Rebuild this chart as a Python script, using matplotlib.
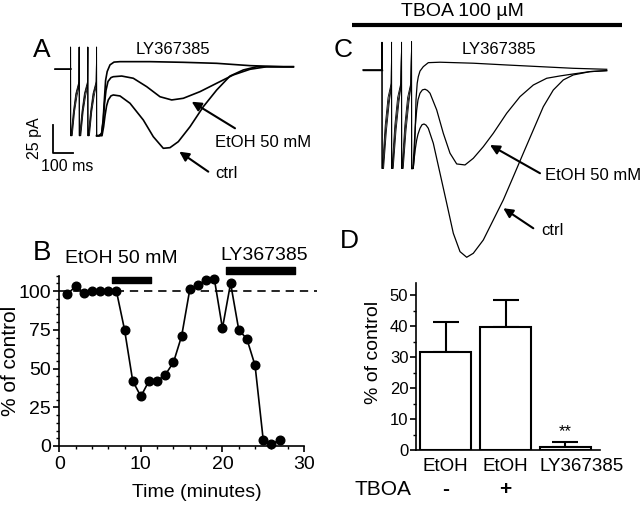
import matplotlib
matplotlib.use("Agg")
import matplotlib.pyplot as plt
from matplotlib.ticker import MultipleLocator

plt.rcParams['font.family'] = ['Liberation Sans', 'DejaVu Sans']
plt.rcParams['font.size'] = 14

# ---------------- Panel A traces (time in ms, current in pA) ----------------
A_stims = [3, 46, 89, 133]
A_base_start = -75
A_LY_art_t = [0, 0.5, 2, 14, 26, 42]
A_LY_art_I = [20, -60, -60, -38, -22, -11]
A_Et_art_t = [0, 0.5, 5, 17, 29, 42]
A_Et_art_I = [20, -60, -60, -38, -22, -13]
A_ct_art_t = [0, 0.5, 8, 20, 32, 42]
A_ct_art_I = [20, -60, -60, -38, -24, -15]

A_LY_t = [133, 133.5, 145, 158, 166, 172, 178, 186, 200, 220, 250, 400, 567, 733, 900, 1067, 1117]
A_LY_I = [20, -60, -60, -58, -45, -27, -10, -2, 4, 6.5, 6.9, 6.9, 6.3, 5.4, 3.3, 2.3, 2.3]
A_Et_t = [133, 133.5, 147, 158, 166, 172, 180, 190, 205, 216.5, 258.5, 316.5, 383.5, 450, 508.5,
          566.5, 650, 733.5, 816.5, 900, 983.5, 1066.5, 1116.5]
A_Et_I = [20, -60, -60, -58, -47, -32, -19, -11, -7.5, -6.7, -6.1, -8.1, -15.7, -24.8, -27.7,
          -26.2, -20.2, -12.6, -5.1, 0, 2.3, 2.3, 2.3]
A_ct_t = [133, 133.5, 150, 160, 168, 175, 183, 191.5, 205, 216.5, 250, 300, 366.5, 416.5, 466.5,
          500, 541.5, 600, 666.5, 733.5, 800, 866.5, 933.5, 1066.5, 1116.5]
A_ct_I = [20, -60, -60, -60, -52, -42, -33, -27.7, -24, -23.2, -24.1, -30.7, -45.8, -60.9, -71.4,
          -70.8, -65.4, -51.9, -33.8, -18.7, -6.1, -0.6, 2.3, 2.3, 2.3]

# ---------------- Panel C traces ----------------
C_stims = [10, 58, 108, 158]
C_base_start = -85
C_LY_art_t = [0, 0.5, 2, 16, 30, 46]
C_LY_art_I = [25, -89, -89, -50, -25, -12]
C_Et_art_t = [0, 0.5, 5, 19, 33, 46]
C_Et_art_I = [25, -89, -89, -52, -28, -14]
C_ct_art_t = [0, 0.5, 8, 22, 36, 46]
C_ct_art_I = [25, -89, -89, -55, -30, -16]

C_LY_t = [158, 158.5, 166, 172, 176, 180, 186, 191.5, 200, 216.5, 241.5, 300, 466.5, 633.5, 800, 966.5, 1133.5]
C_LY_I = [25.6, -89, -89, -78, -55, -27, -12, -6.1, -1, 3, 6.6, 7, 6.1, 4.5, 3, 1.5, 0.6]
C_Et_t = [158, 158.5, 164, 170, 176, 183.5, 190, 200, 212, 225, 237, 250, 283.5, 316.5, 350, 383.5,
          425, 466.5, 516.5, 566.5, 633.5, 700, 766.5, 833.5, 900, 966.5, 1050, 1133.5]
C_Et_I = [25.6, -89, -89, -72.3, -52, -36.1, -27, -21, -18, -17.4, -18.5, -21, -36.1, -57.2, -75.2, -84.9,
          -85.8, -79.8, -69.3, -57.2, -39.1, -24.1, -13.6, -7.5, -5.4, -3.6, -1.5, -0.6]
C_ct_t = [158, 158.5, 166, 170, 176, 183.5, 190, 200, 210, 220, 230, 241.5, 266.5, 300, 333.5, 366.5,
          400, 433.5, 466.5, 516.5, 566.5, 616.5, 666.5, 716.5, 766.5, 816.5, 866.5, 916.5, 966.5, 1050, 1133.5]
C_ct_I = [25.6, -89, -89, -81.3, -72, -63.2, -58, -52.7, -49.5, -48.8, -49.8, -52.7, -66.2, -93.3, -120.4, -147.5,
          -164.1, -169.2, -165.6, -153.6, -135.5, -117.4, -96.4, -75.2, -54.2, -33.2, -18.1, -9, -4.5, -1.5, -0.6]

# ---------------- Panel B time course ----------------
B_time = list(range(1, 28))
B_pct = [98, 103, 99, 100, 100, 100, 100, 75, 42, 32, 42, 42, 46, 54, 71,
         101, 104, 107, 108, 76, 105, 75, 69, 52, 4, 1, 4]
B_control_level = 100
B_etoh_period = (6.5, 11.3)
B_ly_period = (20.4, 28.9)

# ---------------- Panel D bars ----------------
D_labels = ['EtOH', 'EtOH', 'LY367385']
D_means = [31.5, 39.6, 1.1]
D_sem = [9.8, 8.9, 1.6]
D_tboa = ['-', '+']


def build_art(stims, base_start, art_t, art_I, post_t, post_I):
    t = [base_start, stims[0]]
    I = [0, 0]
    for s in stims[:-1]:
        t += [s + r for r in art_t]
        I += list(art_I)
    t += post_t[:2]
    I += post_I[:2]
    return t, I


W, H = 640, 505
fig = plt.figure(figsize=(6.4, 5.05), dpi=100)


def rect(x0, y0, x1, y1):
    return [x0 / W, 1 - y1 / H, (x1 - x0) / W, (y1 - y0) / H]


def draw_traces(ax, stims, base_start, sets, lw_main):
    for at, aI, pt, pI in sets:
        t, I = build_art(stims, base_start, at, aI, pt, pI)
        ax.plot(t, I, color='k', lw=0.6)
        ax.plot(pt[1:], pI[1:], color='k', lw=lw_main)


# ---------------- Panel A ----------------
axA = fig.add_axes(rect(0, 30, 330, 200))
axA.set_xlim(-350, 1300)
axA.set_ylim(-118.1, 35.5)
axA.axis('off')
draw_traces(axA, A_stims, A_base_start,
            [(A_LY_art_t, A_LY_art_I, A_LY_t, A_LY_I),
             (A_Et_art_t, A_Et_art_I, A_Et_t, A_Et_I),
             (A_ct_art_t, A_ct_art_I, A_ct_t, A_ct_I)], 1.2)
axA.plot([A_base_start, A_stims[0]], [0, 0], color='k', lw=1.1)
# scale bar
axA.plot([-83.5, -83.5, 16.5], [-50.3, -75.3, -75.3], color='k', lw=1.3)
axA.text(-175, -62, '25 pA', rotation=90, ha='center', va='center', fontsize=11.5)
axA.text(-15, -87.5, '100 ms', ha='center', va='center', fontsize=11.5)
axA.text(-140, 17, 'A', ha='center', va='center', fontsize=19)
axA.text(330, 18.1, 'LY367385', ha='left', va='center', fontsize=12)
axA.text(725, -66.3, 'EtOH 50 mM', ha='left', va='center', fontsize=12)
axA.text(725, -94, 'ctrl', ha='left', va='center', fontsize=12)
arrow = dict(arrowstyle='-|>', color='k', lw=1.5, mutation_scale=14, shrinkA=0, shrinkB=0)
axA.annotate('', xy=(608.5, -29.3), xytext=(825, -53.3), arrowprops=arrow)
axA.annotate('', xy=(546.5, -74.4), xytext=(691.5, -92.5), arrowprops=arrow)

# ---------------- Panel C ----------------
axC = fig.add_axes(rect(330, 0, 640, 270))
axC.set_xlim(-250, 1300)
axC.set_ylim(-180.7, 63.2)
axC.axis('off')
draw_traces(axC, C_stims, C_base_start,
            [(C_LY_art_t, C_LY_art_I, C_LY_t, C_LY_I),
             (C_Et_art_t, C_Et_art_I, C_Et_t, C_Et_I),
             (C_ct_art_t, C_ct_art_I, C_ct_t, C_ct_I)], 0.9)
axC.plot([C_base_start, C_stims[0]], [0, 0], color='k', lw=1.0)
axC.plot([-141.5, 1208.5], [40.7, 40.7], color='k', lw=3.0, solid_capstyle='butt')
axC.text(414.5, 52.7, 'TBOA 100 µM', ha='center', va='center', fontsize=14)
axC.text(-185, 18.1, 'C', ha='center', va='center', fontsize=19)
axC.text(408.5, 18.1, 'LY367385', ha='left', va='center', fontsize=12)
axC.text(825, -94.9, 'EtOH 50 mM', ha='left', va='center', fontsize=12)
axC.text(808.5, -145.2, 'ctrl', ha='left', va='center', fontsize=12)
axC.annotate('', xy=(550, -67.8), xytext=(800, -93.3), arrowprops=arrow)
axC.annotate('', xy=(616.5, -124.9), xytext=(766.5, -143), arrowprops=arrow)

# ---------------- Panel B ----------------
axB = fig.add_axes(rect(59.3, 275.5, 304, 446))
axB.plot(B_time, B_pct, 'o-', color='k', ms=6.2, lw=1.2, clip_on=False, zorder=3)
axB.axhline(B_control_level, xmin=0, xmax=1.055, color='k', lw=1.2, ls=(0, (5, 3.5)), clip_on=False)
axB.broken_barh([(B_etoh_period[0], B_etoh_period[1] - B_etoh_period[0])], (105, 4.2),
                color='k', clip_on=False)
axB.broken_barh([(B_ly_period[0], B_ly_period[1] - B_ly_period[0])], (110.8, 4.4),
                color='k', clip_on=False)
axB.text(0.7, 121, 'EtOH 50 mM', ha='left', va='center', fontsize=14)
axB.text(19.7, 122.6, 'LY367385', ha='left', va='center', fontsize=14)
axB.set_xlim(0, 30)
axB.set_ylim(0, 110)
axB.set_xticks([0, 10, 20, 30])
axB.set_yticks([0, 25, 50, 75, 100])
axB.xaxis.set_minor_locator(MultipleLocator(2))
axB.yaxis.set_minor_locator(MultipleLocator(5))
for s in ['top', 'right']:
    axB.spines[s].set_visible(False)
for s in ['left', 'bottom']:
    axB.spines[s].set_linewidth(1.2)
axB.tick_params(which='major', direction='out', length=4.5, width=1.2, labelsize=14, pad=1.5)
axB.tick_params(which='minor', direction='out', length=2.5, width=1.0)
axB.tick_params(axis='x', which='major', pad=3)
axB.set_xlabel('Time (minutes)', fontsize=14)
axB.set_ylabel('% of control', fontsize=15)
axB.xaxis.set_label_coords(0.56, -0.225)
axB.yaxis.set_label_coords(-0.161, 0.5)
fig.text(42 / W, 1 - 253 / H, 'B', ha='center', va='center', fontsize=20)

# ---------------- Panel D ----------------
axD = fig.add_axes(rect(416, 282.6, 600, 450))
x = list(range(len(D_means)))
axD.bar(x, D_means, width=0.85, color='white', edgecolor='k', lw=1.5, zorder=2)
axD.errorbar(x, D_means, yerr=[[0] * len(D_sem), D_sem], fmt='none', ecolor='k',
             capsize=9.7, elinewidth=1.5, capthick=1.5, zorder=1)
axD.set_xlim(-0.497, 2.58)
axD.set_ylim(0, 54)
axD.set_yticks([0, 10, 20, 30, 40, 50])
axD.yaxis.set_minor_locator(MultipleLocator(5))
axD.set_xticks([])
# category labels below the bars (the last one starts at the bar's left edge)
label_x = [x[0], x[1], x[2] - 0.43]
label_ha = ['center', 'center', 'left']
for lx, lab, ha in zip(label_x, D_labels, label_ha):
    axD.text(lx, -5.2, lab, ha=ha, va='center', fontsize=13.5, clip_on=False)
axD.tick_params(axis='y', which='major', direction='out', length=4.5, width=1.2, labelsize=12, pad=1)
axD.tick_params(axis='y', which='minor', direction='out', length=2.5, width=1.0)
for s in ['top', 'right']:
    axD.spines[s].set_visible(False)
for s in ['left', 'bottom']:
    axD.spines[s].set_linewidth(1.2)
axD.set_ylabel('% of control', fontsize=14)
axD.yaxis.set_label_coords(-0.185, 0.58)
axD.text(x[2], 5.9, '**', ha='center', va='center', fontsize=12)
axD.text(-1.52, -12.9, 'TBOA', ha='left', va='center', fontsize=15, clip_on=False)
for xi, sgn in zip(x[:2], D_tboa):
    axD.text(xi, -12.9, sgn, ha='center', va='center', fontsize=15, fontweight='bold', clip_on=False)
fig.text(349 / W, 1 - 241 / H, 'D', ha='center', va='center', fontsize=19)

fig.savefig('out.png', dpi=100)
